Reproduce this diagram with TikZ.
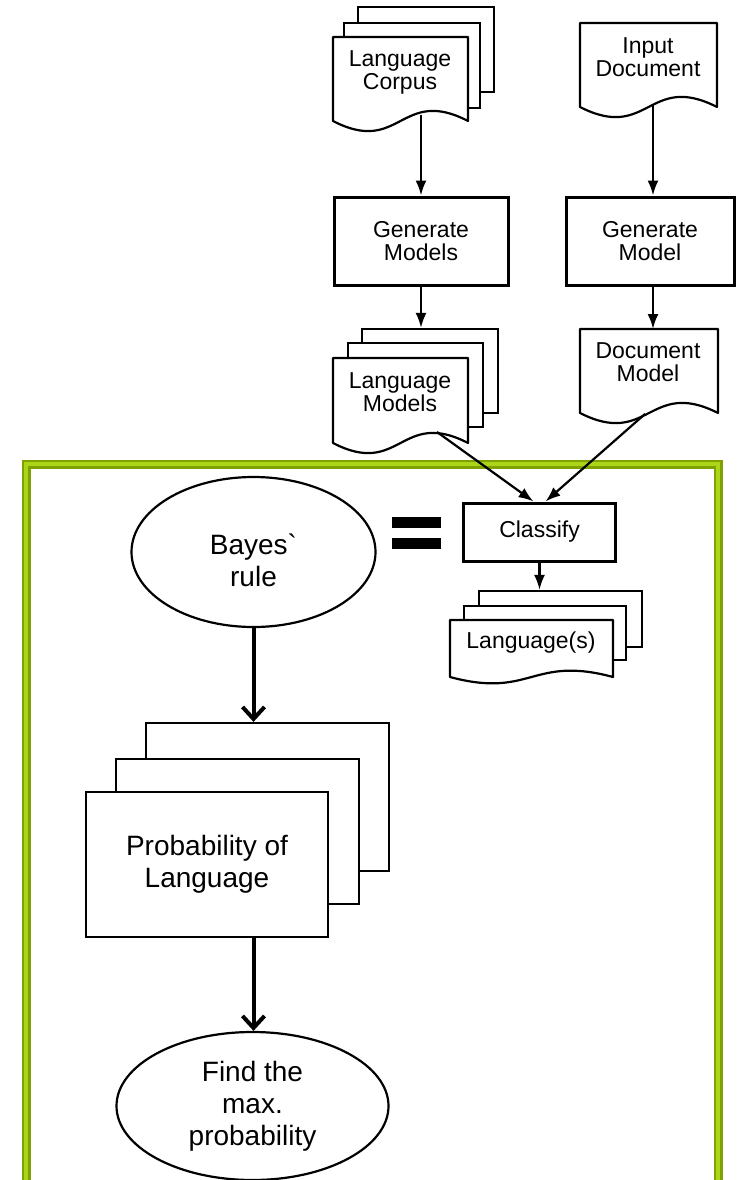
\documentclass[tikz,border=0pt]{standalone}
\usepackage{fontspec}
\setmainfont{Liberation Sans}
\usetikzlibrary{shapes.geometric,arrows.meta,calc}

% document page with a wavy lower edge: x0, top, x1, baseline of the wave, wave depth
\newcommand{\wavedoc}[5]{%
  \filldraw[fill=white,line width=2.2pt,line join=round]
    (#1,#2) -- (#3,#2) -- (#3,#4)
    .. controls ({(#1+#3)/2},{#4-#5}) and ({(#1+#3)/2},{#4+#5}) .. (#1,#4) -- cycle;}

\definecolor{frameouter}{RGB}{128,162,0}
\definecolor{frameinner}{RGB}{172,212,24}

\begin{document}
\begin{tikzpicture}[x=1pt,y=-1pt,
  page/.style={draw,line width=2.2pt,fill=white,inner sep=0pt},
  doctext/.style={align=center,font=\fontsize{23}{23}\selectfont,inner sep=0pt},
  procbox/.style={draw,line width=3pt,fill=white,align=center,
                  font=\fontsize{23}{23}\selectfont,inner sep=0pt},
  bigtext/.style={align=center,font=\fontsize{28}{32}\selectfont,inner sep=0pt},
  bigpage/.style={page,align=center,font=\fontsize{28}{32}\selectfont},
  oval/.style={ellipse,draw,line width=2.2pt,fill=white,inner sep=0pt,
               align=center,font=\fontsize{28}{32}\selectfont},
  thinarrow/.style={line width=2.2pt,-{Latex[length=15pt,width=11pt]}},
  thickarrow/.style={line width=4pt,-{Straight Barb[length=12pt,width=22pt]}},
]
\useasboundingbox (0,0) rectangle (736,1180);
\clip (0,0) rectangle (736,1180);

% green frame around the classifier detail
\draw[frameouter,line width=9pt] (26,464) rectangle (718,1184);
\draw[frameinner,line width=4.5pt] (26,464) rectangle (718,1184);

% ---- language corpus (stack of documents)
\node[page,minimum width=136pt,minimum height=85pt] (corpus-p3) at (426,49.5) {};
\node[page,minimum width=136pt,minimum height=85pt] (corpus-p2) at (412,65.5) {};
\wavedoc{333}{37}{468}{121}{35}
\node[doctext] (corpus) at (400,72) {Language\\Corpus};
\coordinate (corpus-out) at (421,115);

% ---- input document
\wavedoc{580}{23}{717}{107}{35}
\node[doctext] (input) at (648,57) {Input\\Document};
\coordinate (input-out) at (653,104);

% ---- model generation
\node[procbox,minimum width=174pt,minimum height=88pt] (gen1) at (421,241) {Generate\\Models};
\node[procbox,minimum width=168pt,minimum height=88pt] (gen2) at (650,241) {Generate\\Model};

% ---- language models (stack of documents)
\node[page,minimum width=136pt,minimum height=84pt] (lm-p3) at (430,371) {};
\node[page,minimum width=135pt,minimum height=84pt] (lm-p2) at (415.5,385) {};
\wavedoc{333}{358}{468}{443}{35}
\node[doctext] (lm) at (400,392) {Language\\Models};
\coordinate (lm-out) at (437,432);

% ---- document model
\wavedoc{580}{329}{718}{413}{35}
\node[doctext] (dm) at (648,362) {Document\\Model};
\coordinate (dm-top) at (653,329);
\coordinate (dm-out) at (645,414);

% ---- classification
\node[procbox,minimum width=152pt,minimum height=58pt] (cls) at (539.5,532) {Classify};

\node[page,minimum width=163pt,minimum height=56pt] (lang-p3) at (560.5,619) {};
\node[page,minimum width=162pt,minimum height=54pt] (lang-p2) at (545,633) {};
\wavedoc{450}{620}{613}{677}{22}
\node[doctext] (lang) at (531,643) {Language(s)};

% equals sign
\fill (392,517) rectangle (441,528);
\fill (392,538) rectangle (441,549);

% ---- Bayes detail
\node[oval,minimum width=244pt,minimum height=150pt] (bayes) at (253.5,552) {};
\node[bigtext] (bayes-text) at (253.5,560) {Bayes\textasciigrave\\rule};
\node[page,minimum width=243pt,minimum height=148pt] (prob-p3) at (267.5,797) {};
\node[page,minimum width=243pt,minimum height=145pt] (prob-p2) at (237.5,831.5) {};
\node[bigpage,minimum width=242pt,minimum height=145pt] (prob) at (207,864.5) {Probability of\\Language};
\node[oval,minimum width=272pt,minimum height=148pt] (findmax) at (252.5,1106) {Find the\\max.\\probability};

% ---- connectors
\draw[thinarrow] (corpus-out) -- (corpus-out |- gen1.north);
\draw[thinarrow] (input-out) -- (input-out |- gen2.north);
\draw[thinarrow] (gen1.south) -- (gen1.south |- lm-p3.north);
\draw[thinarrow] (gen2.south -| dm-top) -- (dm-top);
\draw[thinarrow] (lm-out) -- ($(cls.north)+(-6,0)$);
\draw[thinarrow] (dm-out) -- ($(cls.north)+(6,0)$);
\draw[thinarrow] (cls.south) -- (cls.south |- lang-p3.north);

\draw[thickarrow] (bayes.south) -- (bayes.south |- prob-p3.north);
\draw[thickarrow] (prob.south -| bayes.south) -- (findmax.north -| bayes.south);
\end{tikzpicture}
\end{document}
